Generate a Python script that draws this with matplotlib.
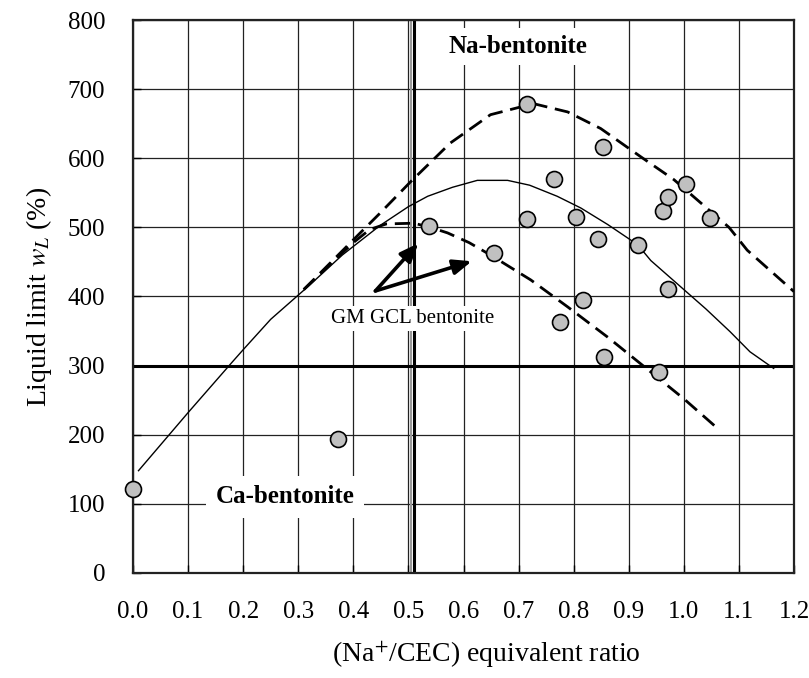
import matplotlib
matplotlib.use("Agg")
import matplotlib.pyplot as plt

plt.rcParams['font.family'] = ['Liberation Serif', 'DejaVu Serif']
plt.rcParams['mathtext.fontset'] = 'stix'

# measured liquid limits
na_ratio = [0.0, 0.373, 0.537, 0.655, 0.715, 0.716, 0.764, 0.775, 0.805, 0.816,
            0.844, 0.853, 0.855, 0.916, 0.955, 0.962, 0.971, 0.971, 1.004, 1.047]
liquid_limit = [121, 194, 502, 463, 678, 512, 570, 363, 515, 395,
                483, 616, 313, 474, 291, 524, 544, 411, 563, 513]

# mean trend (solid)
trend_x = [0.01, 0.1, 0.18, 0.2, 0.25, 0.32, 0.38, 0.449, 0.5, 0.535, 0.58, 0.625,
           0.68, 0.72, 0.77, 0.813, 0.862, 0.916, 0.94, 1.0, 1.04, 1.084, 1.12, 1.163]
trend_y = [148, 232, 305, 323, 367, 416, 460, 503, 530, 545, 558, 568,
           568, 561, 545, 528, 504, 475, 452, 410, 382, 349, 320, 296]

# upper and lower envelopes (dashed)
upper_x = [0.31, 0.36, 0.41, 0.449, 0.504, 0.576, 0.649, 0.727, 0.789, 0.849,
           0.922, 0.982, 1.082, 1.115, 1.2]
upper_y = [410, 450, 490, 521, 566, 622, 663, 679, 667, 643, 602, 569, 500, 467, 407]
lower_x = [0.31, 0.36, 0.40, 0.43, 0.46, 0.51, 0.54, 0.571, 0.61, 0.649, 0.722,
           0.789, 0.862, 0.935, 1.0, 1.06]
lower_y = [410, 448, 478, 497, 505, 506, 500, 492, 478, 460, 424, 385, 341, 294, 252, 210]

x_ticks = [0.0, 0.1, 0.2, 0.3, 0.4, 0.5, 0.6, 0.7, 0.8, 0.9, 1.0, 1.1, 1.2]
y_ticks = [0, 100, 200, 300, 400, 500, 600, 700, 800]
na_limit = 0.51
wl_limit = 300

fig = plt.figure(figsize=(8.09, 6.78), dpi=100)
ax = fig.add_axes([0.1644, 0.1549, 0.8171, 0.8156])

ax.set_xlim(0, 1.2)
ax.set_ylim(0, 800)
ax.set_xticks(x_ticks)
ax.set_xticklabels(['%.1f' % t for t in x_ticks])
ax.set_yticks(y_ticks)
ax.grid(True, color='#222222', lw=0.9)
ax.set_axisbelow(True)
for s in ax.spines.values():
    s.set_linewidth(1.6)
    s.set_color('#222222')
ax.tick_params(direction='in', length=6, width=1, labelsize=18, pad=20)

# boundary lines
ax.axvline(na_limit - 0.006, color='#999999', lw=1.5, zorder=2)
ax.axvline(na_limit, color='black', lw=2.2, zorder=2)
ax.axhline(wl_limit, color='black', lw=2.2, zorder=2)

ax.plot(trend_x, trend_y, color='black', lw=1.0, zorder=3)
ax.plot(upper_x, upper_y, color='black', lw=2.0, dashes=(5.5, 2.8), zorder=3)
ax.plot(lower_x, lower_y, color='black', lw=2.0, dashes=(5.5, 2.8), zorder=3)

ax.plot(na_ratio, liquid_limit, 'o', ms=11.5, mfc='#c0c0c0', mec='black',
        mew=1.2, zorder=4, clip_on=False)

# arrows to the GM GCL bentonite points
for hx, hy in [(0.518, 477), (0.615, 451)]:
    ax.annotate('', xy=(hx, hy), xytext=(0.44, 408),
                arrowprops=dict(arrowstyle='-|>,head_length=1.1,head_width=0.45',
                                color='black', lw=2.6, shrinkA=0, shrinkB=0),
                zorder=5)

ax.text(0.508, 368, 'GM GCL bentonite', fontsize=15, ha='center', va='center',
        bbox=dict(facecolor='white', edgecolor='none', pad=2), zorder=5)
ax.text(0.699, 762, 'Na-bentonite', fontsize=18, fontweight='bold',
        ha='center', va='center',
        bbox=dict(facecolor='white', edgecolor='none', pad=5), zorder=5)
ax.text(0.276, 110, 'Ca-bentonite', fontsize=18, fontweight='bold',
        ha='center', va='center',
        bbox=dict(facecolor='white', edgecolor='none', pad=7), zorder=5)

ax.set_xlabel('(Na$^{+}$/CEC) equivalent ratio', fontsize=20, labelpad=14)
ax.xaxis.set_label_coords(0.534, -0.12)
ax.set_ylabel('Liquid limit $w_L$ (%)', fontsize=20, labelpad=10)

fig.savefig('out.png', dpi=100)
